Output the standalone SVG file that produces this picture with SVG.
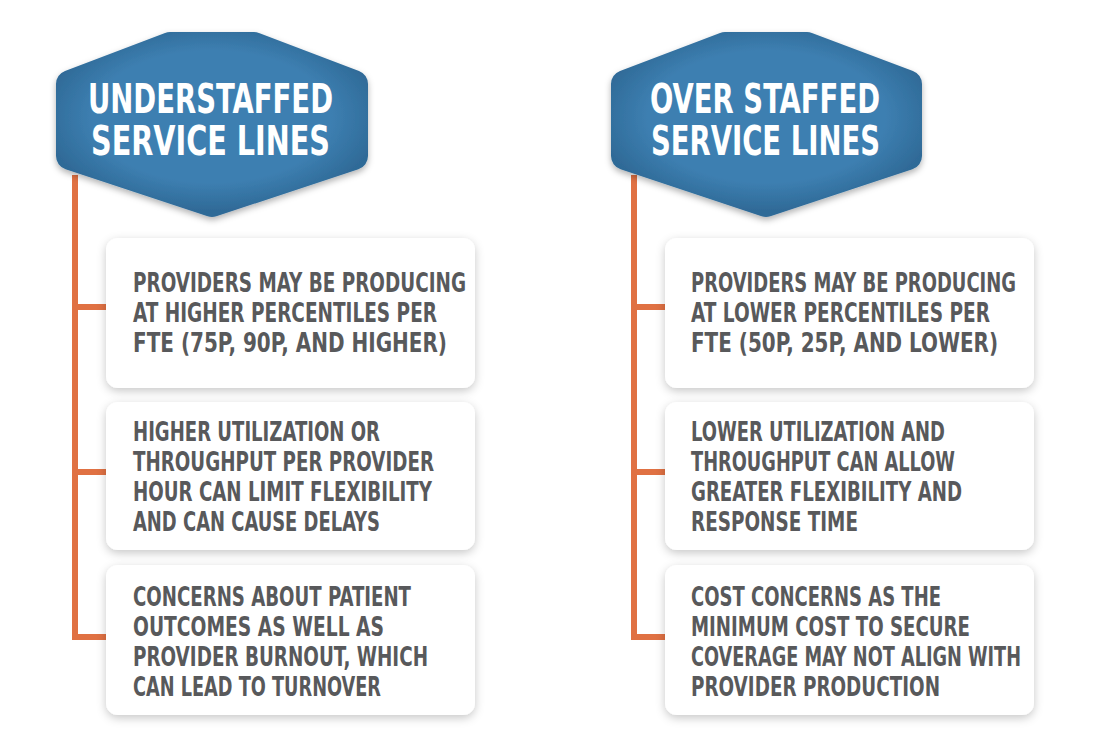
<svg xmlns="http://www.w3.org/2000/svg" width="1110" height="746" viewBox="0 0 1110 746">
<defs>
<filter id="sh" x="-20%" y="-20%" width="140%" height="150%"><feDropShadow dx="0" dy="3" stdDeviation="5" flood-color="#000" flood-opacity="0.22"/></filter>
<filter id="hs" x="-20%" y="-20%" width="140%" height="150%"><feDropShadow dx="0" dy="3" stdDeviation="3" flood-color="#000" flood-opacity="0.3"/></filter>
<radialGradient id="hg" cx="0.5" cy="0.45" r="0.6"><stop offset="0.7" stop-color="#3d7fb1"/><stop offset="1" stop-color="#2f6a97"/></radialGradient>
</defs>
<style>
.card{fill:#fff;filter:url(#sh)}
.hex{fill:url(#hg);stroke:url(#hg);stroke-width:28;stroke-linejoin:round;filter:url(#hs)}
.t{font-family:"DejaVu Sans Condensed","Liberation Sans",sans-serif;font-weight:bold;font-size:26px;fill:#58595b}
.h{font-family:"DejaVu Sans Condensed","Liberation Sans",sans-serif;font-weight:bold;font-size:40px;fill:#fff}
.ln{stroke:#e07143;stroke-width:6;fill:none}
</style>
<g id="connectors">
<path class="ln" d="M75 175V637M72 307H108M72 472H108M72 637H108"/>
<path class="ln" d="M634 175V637M631 307H667M631 472H667M631 637H667"/>
</g>
<g id="hex-left">
<path class="hex" d="M70 84 L170 46 L254 46 L354 84 L354 156 L212 203 L70 156 Z"/>
<text class="h" x="88" y="113" textLength="245" lengthAdjust="spacingAndGlyphs">UNDERSTAFFED</text>
<text class="h" x="91" y="155" textLength="239" lengthAdjust="spacingAndGlyphs">SERVICE LINES</text>
</g>
<g id="hex-right">
<path class="hex" d="M625 84 L725 46 L807 46 L908 84 L908 156 L766 203 L625 156 Z"/>
<text class="h" x="650" y="113" textLength="230" lengthAdjust="spacingAndGlyphs">OVER STAFFED</text>
<text class="h" x="651" y="155" textLength="229" lengthAdjust="spacingAndGlyphs">SERVICE LINES</text>
</g>
<g id="card-l1">
<rect class="card" x="106" y="238" width="369" height="150" rx="12"/>
<text class="t" x="133" y="292" textLength="333" lengthAdjust="spacingAndGlyphs">PROVIDERS MAY BE PRODUCING</text>
<text class="t" x="133" y="322" textLength="304" lengthAdjust="spacingAndGlyphs">AT HIGHER PERCENTILES PER</text>
<text class="t" x="133" y="352" textLength="314" lengthAdjust="spacingAndGlyphs">FTE (75P, 90P, AND HIGHER)</text>
</g>
<g id="card-l2">
<rect class="card" x="106" y="402" width="369" height="148" rx="12"/>
<text class="t" x="133" y="441" textLength="247" lengthAdjust="spacingAndGlyphs">HIGHER UTILIZATION OR</text>
<text class="t" x="133" y="471" textLength="301" lengthAdjust="spacingAndGlyphs">THROUGHPUT PER PROVIDER</text>
<text class="t" x="133" y="501" textLength="299" lengthAdjust="spacingAndGlyphs">HOUR CAN LIMIT FLEXIBILITY</text>
<text class="t" x="133" y="531" textLength="247" lengthAdjust="spacingAndGlyphs">AND CAN CAUSE DELAYS</text>
</g>
<g id="card-l3">
<rect class="card" x="106" y="565" width="369" height="150" rx="12"/>
<text class="t" x="133" y="606" textLength="278" lengthAdjust="spacingAndGlyphs">CONCERNS ABOUT PATIENT</text>
<text class="t" x="133" y="636" textLength="251" lengthAdjust="spacingAndGlyphs">OUTCOMES AS WELL AS</text>
<text class="t" x="133" y="666" textLength="295" lengthAdjust="spacingAndGlyphs">PROVIDER BURNOUT, WHICH</text>
<text class="t" x="133" y="696" textLength="248" lengthAdjust="spacingAndGlyphs">CAN LEAD TO TURNOVER</text>
</g>
<g id="card-r1">
<rect class="card" x="665" y="238" width="369" height="150" rx="12"/>
<text class="t" x="691" y="292" textLength="325" lengthAdjust="spacingAndGlyphs">PROVIDERS MAY BE PRODUCING</text>
<text class="t" x="691" y="322" textLength="299" lengthAdjust="spacingAndGlyphs">AT LOWER PERCENTILES PER</text>
<text class="t" x="691" y="352" textLength="307" lengthAdjust="spacingAndGlyphs">FTE (50P, 25P, AND LOWER)</text>
</g>
<g id="card-r2">
<rect class="card" x="665" y="402" width="369" height="148" rx="12"/>
<text class="t" x="691" y="441" textLength="254" lengthAdjust="spacingAndGlyphs">LOWER UTILIZATION AND</text>
<text class="t" x="691" y="471" textLength="264" lengthAdjust="spacingAndGlyphs">THROUGHPUT CAN ALLOW</text>
<text class="t" x="691" y="501" textLength="271" lengthAdjust="spacingAndGlyphs">GREATER FLEXIBILITY AND</text>
<text class="t" x="691" y="531" textLength="167" lengthAdjust="spacingAndGlyphs">RESPONSE TIME</text>
</g>
<g id="card-r3">
<rect class="card" x="665" y="565" width="369" height="150" rx="12"/>
<text class="t" x="691" y="606" textLength="250" lengthAdjust="spacingAndGlyphs">COST CONCERNS AS THE</text>
<text class="t" x="691" y="636" textLength="279" lengthAdjust="spacingAndGlyphs">MINIMUM COST TO SECURE</text>
<text class="t" x="691" y="666" textLength="330" lengthAdjust="spacingAndGlyphs">COVERAGE MAY NOT ALIGN WITH</text>
<text class="t" x="691" y="696" textLength="249" lengthAdjust="spacingAndGlyphs">PROVIDER PRODUCTION</text>
</g>
</svg>
